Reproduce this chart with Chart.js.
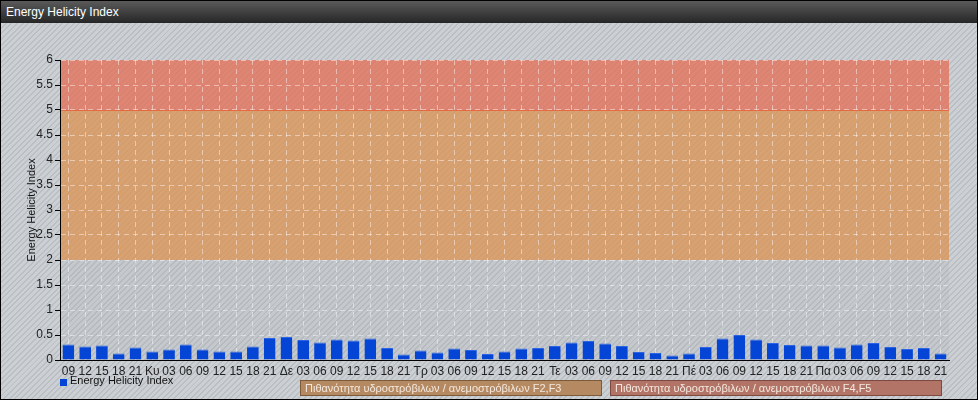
<!DOCTYPE html>
<html>
<head>
<meta charset="utf-8">
<script src="https://cdn.jsdelivr.net/npm/chart.js@4/dist/chart.umd.min.js"></script>
<style>
  html,body{margin:0;padding:0;}
  body{width:978px;height:400px;overflow:hidden;font-family:"Liberation Sans",Arial,sans-serif;}
  #wrap{position:relative;width:978px;height:400px;box-sizing:border-box;border:1px solid #000;
    background:repeating-linear-gradient(135deg,#ccd0d4 0px,#ccd0d4 2.6px,#babfc4 2.6px,#babfc4 4px);overflow:hidden;}
  #title{position:absolute;left:0;top:0;width:976px;height:22px;background:linear-gradient(#5a5a5a,#262626);
    color:#fff;font-size:12px;line-height:22px;padding-left:5px;box-sizing:border-box;}
  #cv{position:absolute;left:-1px;top:-1px;}
  .leg{position:absolute;font-size:11px;color:#111;}
  .mark{position:absolute;width:7px;height:7px;background:#0545d6;}
  .box{position:absolute;height:16px;box-sizing:border-box;font-size:11px;line-height:14px;color:#f4e8de;padding-left:4px;white-space:nowrap;}
</style>
</head>
<body>
<div id="wrap">
  <canvas id="cv" width="978" height="400"></canvas>
  <div id="title">Energy Helicity Index</div>
  <div class="mark" style="left:59px;top:378px;"></div>
  <div class="leg" style="left:69px;top:373px;">Energy Helicity Index</div>
  <div class="box" style="left:299px;top:379px;width:302px;background:#b58a62;border:1px solid #7d5a3a;">Πιθανότητα υδροστρόβιλων / ανεμοστρόβιλων F2,F3</div>
  <div class="box" style="left:609px;top:379px;width:332px;background:#b37468;border:1px solid #7d4a40;">Πιθανότητα υδροστρόβιλων / ανεμοστρόβιλων F4,F5</div>
</div>
<script>
const categories = ['09','12','15','18','21','Κυ','03','06','09','12','15','18','21','Δε','03','06','09','12','15','18','21','Τρ','03','06','09','12','15','18','21','Τε','03','06','09','12','15','18','21','Πέ','03','06','09','12','15','18','21','Πα','03','06','09','12','15','18','21'];
const helicityValues = [0.31,0.27,0.29,0.13,0.25,0.17,0.21,0.31,0.21,0.17,
  0.17,0.27,0.44,0.46,0.40,0.35,0.41,0.39,0.43,0.24,
  0.11,0.19,0.15,0.23,0.20,0.12,0.17,0.23,0.24,0.28,
  0.35,0.38,0.33,0.28,0.16,0.14,0.09,0.13,0.26,0.43,
  0.50,0.41,0.34,0.30,0.29,0.29,0.25,0.31,0.34,0.26,
  0.22,0.24,0.13];
const bandFrom = [0, 2, 5];
const bandTo = [2, 5, 6];
const bandColors = ['rgba(150,155,160,0.12)','rgba(219,149,88,0.8)','rgba(227,112,88,0.78)'];
const yMin = 0, yMax = 6, yStep = 0.5;

const bandsPlugin = {
  id:'bands',
  beforeDraw(chart){
    const {ctx, chartArea:a, scales:{y}} = chart;
    ctx.save();
    for(let i=0;i<bandFrom.length;i++){
      const t = y.getPixelForValue(bandTo[i]), b = y.getPixelForValue(bandFrom[i]);
      ctx.fillStyle = bandColors[i];
      ctx.fillRect(a.left, t, a.right-a.left, b-t);
    }
    const p5 = Math.round(y.getPixelForValue(5))+0.5;
    ctx.strokeStyle='rgba(230,100,60,0.9)';ctx.lineWidth=1;
    ctx.beginPath();ctx.moveTo(a.left,p5);ctx.lineTo(a.right,p5);ctx.stroke();
    ctx.restore();
  }
};

Chart.defaults.font.family = '"Liberation Sans", Arial, sans-serif';
Chart.defaults.font.size = 12;
Chart.defaults.color = '#222';

new Chart(document.getElementById('cv'), {
  type:'bar',
  data:{labels:categories, datasets:[{label:'Energy Helicity Index', data:helicityValues,
    backgroundColor:'#0545d6', borderColor:'#2d64e4', borderWidth:{top:1,left:0,right:0,bottom:0},
    categoryPercentage:1, barPercentage:0.7}]},
  options:{
    responsive:false, animation:false,
    layout:{padding:{top:60,right:29,left:25,bottom:0}},
    plugins:{legend:{display:false}, tooltip:{enabled:false}},
    scales:{
      x:{
        grid:{offset:false, color:'rgba(255,255,255,0.45)', drawTicks:false},
        border:{display:true, color:'#000', width:1, dash:[5,4]},
        ticks:{autoSkip:false, maxRotation:0, padding:4, font:{size:12}, color:'#222'},
        afterFit(s){ s.height = 40; }
      },
      y:{
        min:yMin, max:yMax,
        grid:{color:'rgba(255,255,255,0.45)', tickColor:'#000', tickLength:5},
        border:{display:true, color:'#000', width:1, dash:[5,4]},
        ticks:{stepSize:yStep, padding:2, font:{size:12}, color:'#222', callback:(v)=>String(v)},
        title:{display:true, text:'Energy Helicity Index', font:{size:11}, color:'#111', padding:{top:0,bottom:0}},
        afterFit(s){ s.width = 35; }
      }
    }
  },
  plugins:[bandsPlugin]
});
</script>
</body>
</html>
